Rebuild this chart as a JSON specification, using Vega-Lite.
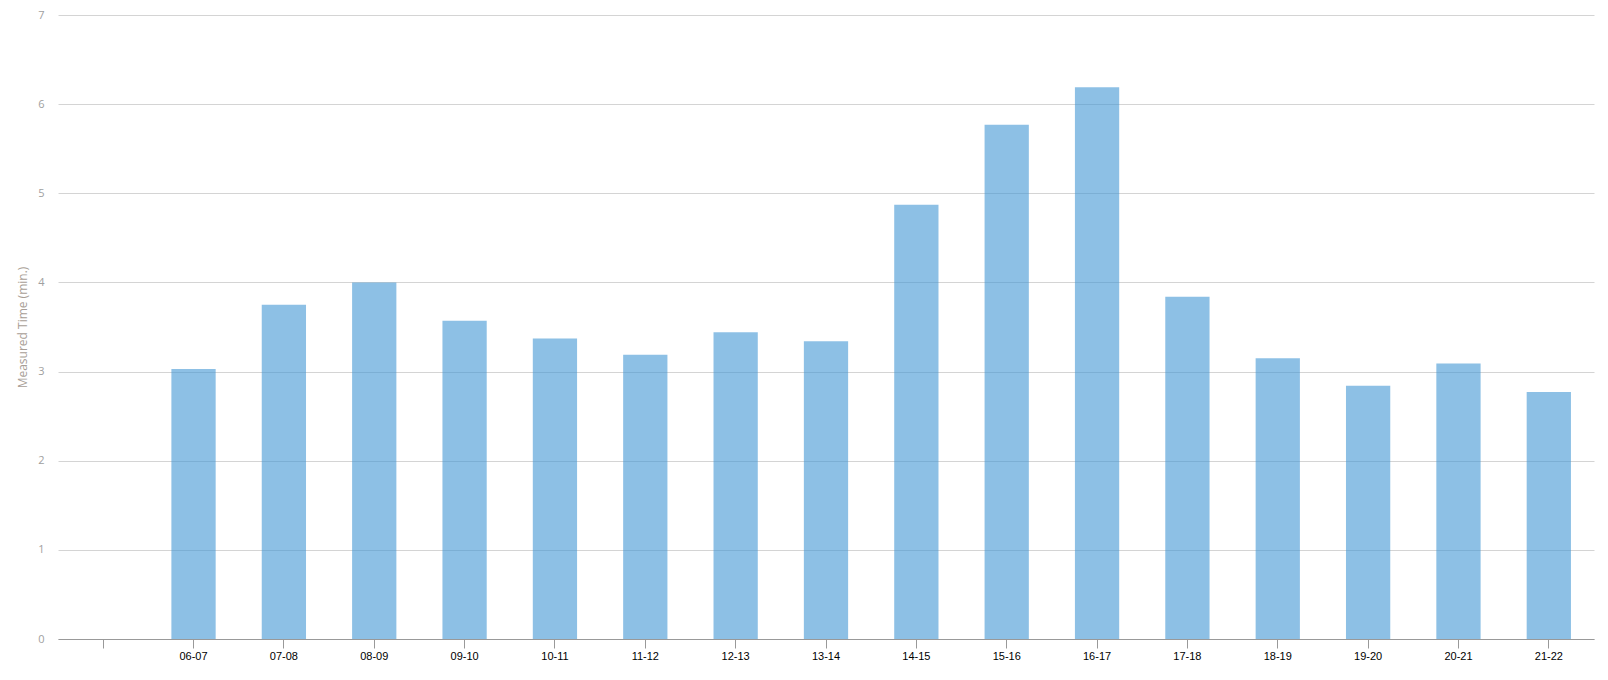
{
  "$schema": "https://vega.github.io/schema/vega-lite/v6.json",
  "width": 1536,
  "height": 624,
  "autosize": {"type": "none"},
  "padding": {"left": 58, "top": 15, "right": 14, "bottom": 41},
  "background": "white",
  "config": {"view": {"stroke": null}},
  "data": {"values": [
    {"hour": "06-07", "time": 3.03},
    {"hour": "07-08", "time": 3.75},
    {"hour": "08-09", "time": 4.0},
    {"hour": "09-10", "time": 3.57},
    {"hour": "10-11", "time": 3.37},
    {"hour": "11-12", "time": 3.19},
    {"hour": "12-13", "time": 3.44},
    {"hour": "13-14", "time": 3.34},
    {"hour": "14-15", "time": 4.87},
    {"hour": "15-16", "time": 5.77},
    {"hour": "16-17", "time": 6.19},
    {"hour": "17-18", "time": 3.84},
    {"hour": "18-19", "time": 3.15},
    {"hour": "19-20", "time": 2.84},
    {"hour": "20-21", "time": 3.09},
    {"hour": "21-22", "time": 2.77}
  ]},
  "mark": {"type": "bar", "color": "#4196d4", "opacity": 0.6},
  "encoding": {
    "x": {
      "field": "hour",
      "type": "nominal",
      "sort": null,
      "scale": {"domain": [" ", "06-07", "07-08", "08-09", "09-10", "10-11", "11-12", "12-13", "13-14", "14-15", "15-16", "16-17", "17-18", "18-19", "19-20", "20-21", "21-22"], "paddingInner": 0.51, "paddingOuter": 0.255},
      "axis": {
        "title": null,
        "labelAngle": 0,
        "labelColor": "#000000",
        "labelFont": "Liberation Sans",
        "labelFontSize": 11,
        "labelPadding": 2,
        "tickSize": 9,
        "tickColor": "#999999",
        "domainColor": "#999999",
        "grid": false
      }
    },
    "y": {
      "field": "time",
      "type": "quantitative",
      "scale": {"domain": [0, 7], "nice": false},
      "axis": {
        "title": "Measured Time (min.)",
        "titleColor": "#a89e96",
        "titleFont": "Open Sans",
        "titleFontSize": 12,
        "titleFontWeight": "normal",
        "titlePadding": 8,
        "values": [0, 1, 2, 3, 4, 5, 6, 7],
        "labelColor": "#a0a0a0",
        "labelFont": "Open Sans",
        "labelFontSize": 11,
        "labelPadding": 14,
        "ticks": false,
        "domain": false,
        "grid": true,
        "gridColor": "#d4d4d4",
        "gridWidth": 1
      }
    }
  }
}
